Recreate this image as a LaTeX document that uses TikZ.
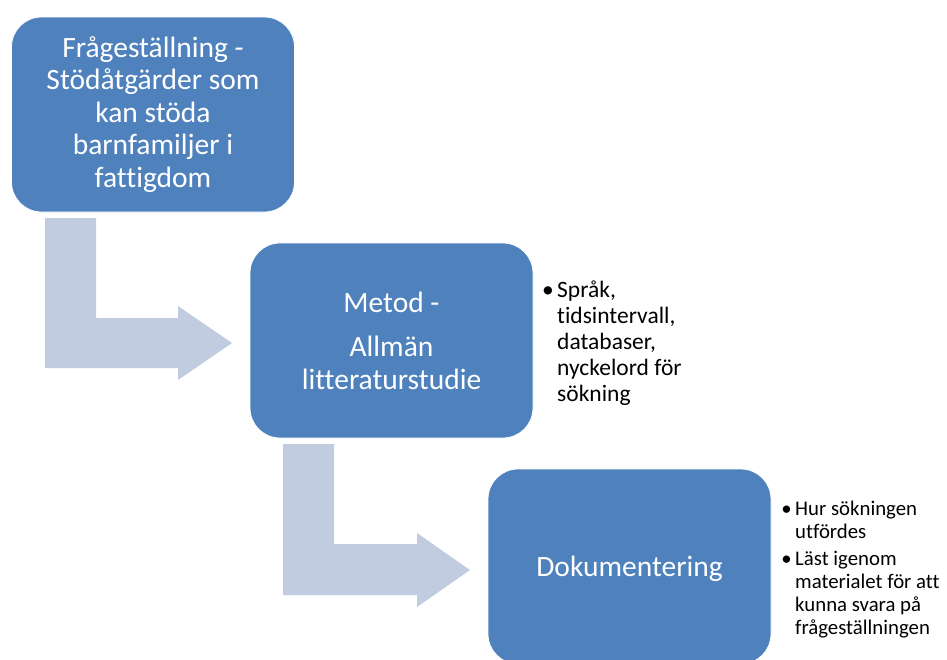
\documentclass[tikz,border=0pt]{standalone}
\usepackage{fontspec}
\setmainfont{Carlito}[Ligatures=NoCommon]
\definecolor{boxblue}{HTML}{4F81BD}
\definecolor{arrowblue}{RGB}{193,204,225}
\newcommand{\bul}{\makebox[0pt][r]{•\hspace{3.5pt}}}
\begin{document}
\begin{tikzpicture}[x=1pt,y=-1pt,
  stepbox/.style={draw=white,line width=0.8pt,fill=boxblue,rounded corners=30pt,
    minimum width=283pt,minimum height=195pt,text=white,align=center,inner sep=0pt,
    font=\fontsize{29.5}{32.5}\selectfont},
  bentarrow/.style={fill=arrowblue,draw=none},
  bulletitem/.style={anchor=north west,inner sep=0pt,align=left,text=black}]
\useasboundingbox[fill=white] (0,0) rectangle (947,659);
% bent arrows
\fill[bentarrow] (45,218) -- (96,218) -- (96,318) -- (178,318) -- (178,306) -- (232,343)
  -- (178,380) -- (178,368) -- (45,368) -- cycle;
\fill[bentarrow] (283,444) -- (334,444) -- (334,544) -- (417,544) -- (417,533) -- (470,570)
  -- (417,607) -- (417,595) -- (283,595) -- cycle;
% boxes
\node[stepbox] (q) at (153,114.5) {Frågeställning -\\Stödåtgärder som\\kan stöda\\barnfamiljer i\\fattigdom};
\node[stepbox] (m) at (391.5,340.5) {Metod -\\[12pt]Allmän\\litteraturstudie};
\node[stepbox,text height=26pt,text depth=6pt] (d) at (629.5,566.5) {Dokumentering};
% bullet list for Metod
\node[bulletitem,font=\fontsize{23.5}{26}\selectfont] (t1) at (557,280.5)
  {\bul Språk,\\tidsintervall,\\databaser,\\nyckelord för\\sökning};
% bullet list for Dokumentering
\node[bulletitem,font=\fontsize{20.8}{23}\selectfont] (t2) at (795,501)
  {\bul Hur sökningen\\utfördes};
\node[bulletitem,font=\fontsize{20.8}{23}\selectfont] (t3) at (795,551)
  {\bul Läst igenom\\materialet för att\\kunna svara på\\frågeställningen};
\end{tikzpicture}
\end{document}
